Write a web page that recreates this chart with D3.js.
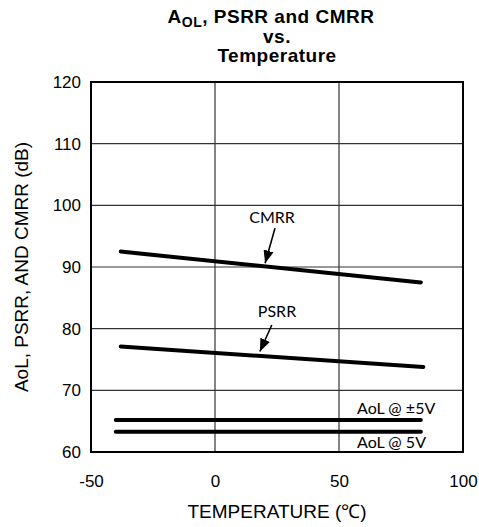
<!DOCTYPE html>
<html>
<head>
<meta charset="utf-8">
<script src="https://cdn.jsdelivr.net/npm/d3@7"></script>
<style>
  body { margin: 0; background: #fff; }
  svg { display: block; }
</style>
</head>
<body>
<script>
const width = 479;
const height = 527;
const margin = { top: 82, right: 16, bottom: 75, left: 91 };

// axis ticks
const xTicks = [-50, 0, 50, 100];
const yTicks = [60, 70, 80, 90, 100, 110, 120];

// series (temperature in C, value in dB)
const cmrrTemp = [-38, 83];
const cmrrDb = [92.5, 87.5];
const psrrTemp = [-38, 84];
const psrrDb = [77.1, 73.8];
const aolDualTemp = [-40, 83];
const aolDualDb = [65.2, 65.2];
const aolSingleTemp = [-40, 83];
const aolSingleDb = [63.3, 63.3];

// annotations: [label, x, y, anchor]  and arrows: [x1, y1, x2, y2] in data units
const labels = [
    ['CMRR', 23, 97.1, 'middle'],
    ['PSRR', 25, 81.9, 'middle'],
    ['AoL @ \u00B15V', 57.3, 66.2, 'start'],
    ['AoL @ 5V', 57.3, 60.65, 'start']
];
const arrows = [
    [24.2, 96.3, 20.2, 90.6],
    [22.9, 80.6, 18.1, 76.3]
];

const innerW = width - margin.left - margin.right;
const innerH = height - margin.top - margin.bottom;
const sans = 'Liberation Sans, Arial, sans-serif';

const x = d3.scaleLinear().domain([-50, 100]).range([0, innerW]);
const y = d3.scaleLinear().domain([60, 120]).range([innerH, 0]);

const svg = d3.select('body')
    .append('svg')
    .attr('width', width)
    .attr('height', height);

// title
const titleLines = svg.append('g')
    .attr('text-anchor', 'middle')
    .style('font-family', sans)
    .style('font-weight', 'bold')
    .style('font-size', '19px')
    .style('letter-spacing', '0.5px');
const title = titleLines.append('text')
    .attr('x', margin.left + innerW / 2 - 6)
    .attr('y', 23);
title.append('tspan').text('A');
title.append('tspan').attr('dy', 4).style('font-size', '14px').text('OL');
title.append('tspan').attr('dy', -4).text(', PSRR and CMRR');
titleLines.append('text')
    .attr('x', margin.left + innerW / 2)
    .attr('y', 42.5)
    .text('vs.');
titleLines.append('text')
    .attr('x', margin.left + innerW / 2)
    .attr('y', 62)
    .text('Temperature');

const g = svg.append('g')
    .attr('transform', `translate(${margin.left},${margin.top})`);

// grid
g.append('g')
    .selectAll('line')
    .data(xTicks.slice(1, -1))
    .enter().append('line')
    .attr('x1', d => x(d)).attr('x2', d => x(d))
    .attr('y1', 0).attr('y2', innerH)
    .style('stroke', '#333')
    .style('stroke-width', 1.2);

g.append('g')
    .selectAll('line')
    .data(yTicks.slice(1, -1))
    .enter().append('line')
    .attr('x1', 0).attr('x2', innerW)
    .attr('y1', d => y(d)).attr('y2', d => y(d))
    .style('stroke', '#333')
    .style('stroke-width', 1.2);

// frame
g.append('rect')
    .attr('width', innerW)
    .attr('height', innerH)
    .style('fill', 'none')
    .style('stroke', '#000')
    .style('stroke-width', 2);

// tick labels
const xAxis = g.append('g')
    .attr('transform', `translate(0,${innerH})`)
    .call(d3.axisBottom(x).tickValues(xTicks).tickSize(0).tickPadding(23).tickFormat(d => String(d)));
xAxis.select('.domain').remove();
xAxis.selectAll('text')
    .style('font-family', sans)
    .style('font-size', '17px')
    .style('fill', '#000');

const yAxis = g.append('g')
    .call(d3.axisLeft(y).tickValues(yTicks).tickSize(0).tickPadding(10).tickFormat(d => String(d)));
yAxis.select('.domain').remove();
yAxis.selectAll('text')
    .style('font-family', sans)
    .style('font-size', '17px')
    .style('fill', '#000');

// axis titles
svg.append('text')
    .attr('x', margin.left + innerW / 2)
    .attr('y', 518)
    .attr('text-anchor', 'middle')
    .style('font-family', sans)
    .style('font-size', '19px')
    .text('TEMPERATURE (\u2103)');

svg.append('text')
    .attr('transform', `translate(28,${margin.top + innerH / 2}) rotate(-90)`)
    .attr('text-anchor', 'middle')
    .style('font-family', sans)
    .style('font-size', '19px')
    .text('AoL, PSRR, AND CMRR (dB)');

// series lines
const line = d3.line().x(d => x(d[0])).y(d => y(d[1]));
const series = [
    d3.zip(cmrrTemp, cmrrDb),
    d3.zip(psrrTemp, psrrDb),
    d3.zip(aolDualTemp, aolDualDb),
    d3.zip(aolSingleTemp, aolSingleDb)
];
g.append('g')
    .selectAll('path')
    .data(series)
    .enter().append('path')
    .attr('d', line)
    .style('fill', 'none')
    .style('stroke', '#000')
    .style('stroke-width', 4)
    .style('stroke-linecap', 'round');

// arrows
svg.append('defs').append('marker')
    .attr('id', 'head')
    .attr('viewBox', '0 0 10 10')
    .attr('refX', 10).attr('refY', 5)
    .attr('markerWidth', 8).attr('markerHeight', 8)
    .attr('markerUnits', 'strokeWidth')
    .attr('orient', 'auto')
    .append('path')
    .attr('d', 'M0,1 L10,5 L0,9 Z')
    .style('fill', '#000');

g.append('g')
    .selectAll('line')
    .data(arrows)
    .enter().append('line')
    .attr('x1', d => x(d[0])).attr('y1', d => y(d[1]))
    .attr('x2', d => x(d[2])).attr('y2', d => y(d[3]))
    .style('stroke', '#000')
    .style('stroke-width', 1.6)
    .attr('marker-end', 'url(#head)');

// labels
g.append('g')
    .selectAll('text')
    .data(labels)
    .enter().append('text')
    .attr('x', d => x(d[1]))
    .attr('y', d => y(d[2]))
    .attr('text-anchor', d => d[3])
    .style('font-family', 'Lato, Carlito, sans-serif')
    .style('font-size', '16px')
    .text(d => d[0]);
</script>
</body>
</html>
